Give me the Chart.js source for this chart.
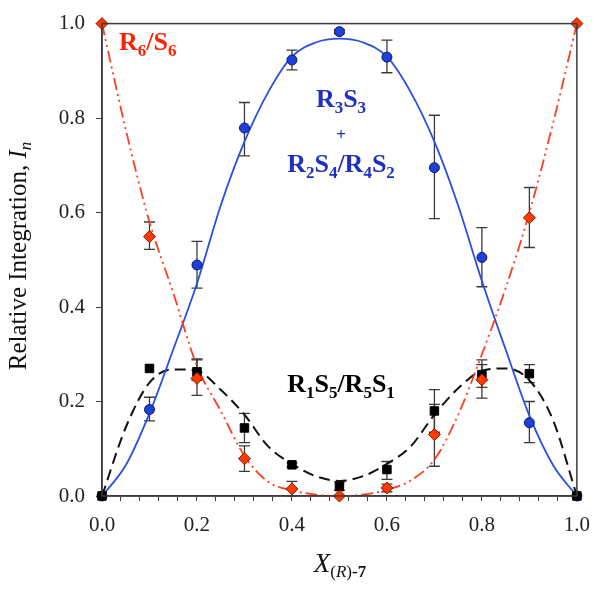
<!DOCTYPE html>
<html>
<head>
<meta charset="utf-8">
<script src="https://cdn.jsdelivr.net/npm/chart.js@4.4.0/dist/chart.umd.min.js"></script>
<style>
  html, body { margin: 0; padding: 0; background: #fff; }
  #wrap { width: 602px; height: 594px; }
</style>
</head>
<body>
<div id="wrap"><canvas id="myChart" width="602" height="594"></canvas></div>
<script>
// measured points, x = mole fraction of (R)-7
const xValues = [0, 0.1, 0.2, 0.3, 0.4, 0.5, 0.6, 0.7, 0.8, 0.9, 1.0];

// R6/S6
const r6Values = [1.0, 0.549, 0.249, 0.079, 0.015, 0.0, 0.017, 0.13, 0.246, 0.589, 1.0];
const r6High   = [1.0, 0.580, 0.290, 0.106, 0.031, 0.0, 0.025, 0.194, 0.278, 0.653, 1.0];
const r6Low    = [1.0, 0.522, 0.213, 0.052, 0.0,   0.0, 0.009, 0.063, 0.207, 0.526, 1.0];

// R3S3 + R2S4/R4S2
const r3Values = [0, 0.183, 0.489, 0.779, 0.923, 0.983, 0.929, 0.695, 0.505, 0.155, 0];
const r3High   = [0, 0.209, 0.539, 0.833, 0.944, 0.987, 0.965, 0.806, 0.568, 0.200, 0];
const r3Low    = [0, 0.159, 0.440, 0.720, 0.902, 0.979, 0.896, 0.587, 0.443, 0.113, 0];

// R1S5/R5S1
const r1Values = [0, 0.27, 0.263, 0.144, 0.066, 0.02, 0.056, 0.18, 0.257, 0.259, 0];
const r1High   = [0, 0.27, 0.288, 0.175, 0.070, 0.03, 0.073, 0.225, 0.288, 0.278, 0];
const r1Low    = [0, 0.27, 0.245, 0.113, 0.062, 0.012, 0.035, 0.135, 0.230, 0.240, 0];

// fitted curves, every 0.05
const curveX = [0, 0.05, 0.1, 0.15, 0.2, 0.25, 0.3, 0.35, 0.4, 0.45, 0.5,
                0.55, 0.6, 0.65, 0.7, 0.75, 0.8, 0.85, 0.9, 0.95, 1.0];
const r6Curve = [1.0, 0.776, 0.58, 0.43, 0.275, 0.18, 0.085, 0.03, 0.012, 0.003, 0,
                 0.003, 0.013, 0.033, 0.077, 0.172, 0.30, 0.44, 0.60, 0.79, 1.0];
const r3Curve = [0, 0.065, 0.175, 0.31, 0.45, 0.615, 0.75, 0.855, 0.93, 0.96, 0.968,
                 0.96, 0.93, 0.855, 0.75, 0.615, 0.455, 0.31, 0.17, 0.065, 0];
const r1Curve = [0, 0.145, 0.24, 0.268, 0.265, 0.225, 0.172, 0.105, 0.068, 0.042, 0.032,
                 0.042, 0.068, 0.105, 0.172, 0.228, 0.265, 0.27, 0.245, 0.16, 0];

const serif = "'Liberation Serif', 'Times New Roman', serif";

function toPoints(xs, ys) {
    return xs.map((x, i) => ({ x: x, y: ys[i] }));
}

// error bars drawn under the markers
const errorBars = {
    id: 'errorBars',
    beforeDatasetsDraw(chart) {
        const ctx = chart.ctx;
        const xs = chart.scales.x, ys = chart.scales.y;
        const sets = [[r6High, r6Low], [r3High, r3Low], [r1High, r1Low]];
        ctx.save();
        ctx.strokeStyle = '#3a3a3a';
        ctx.lineWidth = 1.3;
        sets.forEach(([hi, lo]) => {
            for (let i = 0; i < xValues.length; i++) {
                if (hi[i] - lo[i] < 0.004) continue;
                let px = xs.getPixelForValue(xValues[i]);
                let top = ys.getPixelForValue(hi[i]);
                let bot = ys.getPixelForValue(lo[i]);
                ctx.beginPath();
                ctx.moveTo(px, top); ctx.lineTo(px, bot);
                ctx.moveTo(px - 5.5, top); ctx.lineTo(px + 5.5, top);
                ctx.moveTo(px - 5.5, bot); ctx.lineTo(px + 5.5, bot);
                ctx.stroke();
            }
        });
        ctx.restore();
    }
};

// draws a run of text pieces (for subscripts / mixed styles)
function drawRich(ctx, parts, x, y, align) {
    let total = 0;
    parts.forEach(p => { ctx.font = p.font; p.w = ctx.measureText(p.text).width; total += p.w; });
    let cx = align === 'center' ? x - total / 2 : x;
    parts.forEach(p => {
        ctx.font = p.font;
        ctx.fillText(p.text, cx, y + (p.dy || 0));
        cx += p.w;
    });
}

const labels = {
    id: 'labels',
    afterDraw(chart) {
        const ctx = chart.ctx;
        const a = chart.chartArea;
        ctx.save();
        // top and right frame
        ctx.strokeStyle = '#3c3c3c';
        ctx.lineWidth = 1.5;
        ctx.strokeRect(a.left, a.top, a.right - a.left, a.bottom - a.top);

        ctx.textBaseline = 'alphabetic';
        ctx.textAlign = 'left';
        const big = 'bold 26px ' + serif;
        const sub = 'bold 17px ' + serif;

        ctx.fillStyle = '#ff2200';
        drawRich(ctx, [
            { text: 'R', font: big }, { text: '6', font: sub, dy: 6 },
            { text: '/S', font: big }, { text: '6', font: sub, dy: 6 }
        ], 119, 50, 'left');

        ctx.fillStyle = '#1f2fbf';
        drawRich(ctx, [
            { text: 'R', font: big }, { text: '3', font: sub, dy: 6 },
            { text: 'S', font: big }, { text: '3', font: sub, dy: 6 }
        ], 341, 107, 'center');
        drawRich(ctx, [{ text: '+', font: 'bold 17px ' + serif }], 341, 140, 'center');
        drawRich(ctx, [
            { text: 'R', font: big }, { text: '2', font: sub, dy: 6 },
            { text: 'S', font: big }, { text: '4', font: sub, dy: 6 },
            { text: '/R', font: big }, { text: '4', font: sub, dy: 6 },
            { text: 'S', font: big }, { text: '2', font: sub, dy: 6 }
        ], 341, 172, 'center');

        ctx.fillStyle = '#000';
        drawRich(ctx, [
            { text: 'R', font: big }, { text: '1', font: sub, dy: 6 },
            { text: 'S', font: big }, { text: '5', font: sub, dy: 6 },
            { text: '/R', font: big }, { text: '5', font: sub, dy: 6 },
            { text: 'S', font: big }, { text: '1', font: sub, dy: 6 }
        ], 341, 392, 'center');

        // axis titles
        ctx.fillStyle = '#111';
        drawRich(ctx, [
            { text: 'X', font: 'italic 27px ' + serif },
            { text: '(', font: '17px ' + serif, dy: 5 },
            { text: 'R', font: 'italic 17px ' + serif, dy: 5 },
            { text: ')', font: '17px ' + serif, dy: 5 },
            { text: '-7', font: 'bold 17px ' + serif, dy: 5 }
        ], 340, 572, 'center');

        ctx.translate(26, 256);
        ctx.rotate(-Math.PI / 2);
        drawRich(ctx, [
            { text: 'Relative Integration, ', font: '25px ' + serif },
            { text: 'I', font: 'italic 25px ' + serif },
            { text: 'n', font: 'italic 17px ' + serif, dy: 5 }
        ], 0, 0, 'center');
        ctx.restore();
    }
};

const ctx = document.getElementById('myChart').getContext('2d');
new Chart(ctx, {
    type: 'scatter',
    data: {
        datasets: [
            {
                label: 'R6/S6',
                data: toPoints(xValues, r6Values),
                pointStyle: 'rectRot',
                pointRadius: 6,
                backgroundColor: '#ff3a00',
                borderColor: '#8a1500',
                borderWidth: 1,
                order: 0
            },
            {
                label: 'R1S5/R5S1',
                data: toPoints(xValues, r1Values),
                pointStyle: 'rect',
                pointRadius: 6,
                backgroundColor: '#000',
                borderColor: '#000',
                borderWidth: 1,
                order: 0
            },
            {
                label: 'R3S3 + R2S4/R4S2',
                data: toPoints(xValues, r3Values),
                pointStyle: 'circle',
                pointRadius: 5,
                backgroundColor: '#1e40d8',
                borderColor: '#0b1a70',
                borderWidth: 1,
                order: 0
            },
            {
                label: 'R6/S6 fit',
                type: 'line',
                data: toPoints(curveX, r6Curve),
                borderColor: '#ff3d1f',
                borderWidth: 1.8,
                borderDash: [12, 4, 2, 4, 2, 4],
                pointRadius: 0,
                cubicInterpolationMode: 'monotone',
                fill: false,
                order: 1
            },
            {
                label: 'R3S3 fit',
                type: 'line',
                data: toPoints(curveX, r3Curve),
                borderColor: '#2a4fe0',
                borderWidth: 1.8,
                pointRadius: 0,
                cubicInterpolationMode: 'monotone',
                fill: false,
                order: 1
            },
            {
                label: 'R1S5 fit',
                type: 'line',
                data: toPoints(curveX, r1Curve),
                borderColor: '#111',
                borderWidth: 2,
                borderDash: [11, 6],
                pointRadius: 0,
                cubicInterpolationMode: 'monotone',
                fill: false,
                order: 1
            }
        ]
    },
    options: {
        responsive: false,
        animation: false,
        devicePixelRatio: 1,
        clip: false,
        layout: { padding: { top: 17, right: 23, left: 0, bottom: 0 } },
        plugins: {
            legend: { display: false },
            tooltip: { enabled: false }
        },
        scales: {
            x: {
                type: 'linear',
                min: 0,
                max: 1,
                afterFit: s => { s.height = 98; },
                border: { color: '#3c3c3c', width: 1.5 },
                grid: { drawOnChartArea: false, drawTicks: true, tickLength: 5, color: '#3c3c3c' },
                ticks: {
                    stepSize: 0.04,
                    maxTicksLimit: 30,
                    autoSkip: false,
                    maxRotation: 0,
                    padding: 12,
                    color: '#222',
                    font: { family: serif, size: 21 },
                    callback: v => {
                        let k = v * 5;
                        return Math.abs(k - Math.round(k)) < 1e-6 ? v.toFixed(1) : '';
                    }
                }
            },
            y: {
                type: 'linear',
                min: 0,
                max: 1,
                afterFit: s => { s.width = 102; },
                border: { color: '#3c3c3c', width: 1.5 },
                grid: { drawOnChartArea: false, drawTicks: true, tickLength: 6, color: '#3c3c3c' },
                ticks: {
                    stepSize: 0.2,
                    padding: 11,
                    color: '#222',
                    font: { family: serif, size: 21 },
                    callback: v => v.toFixed(1)
                }
            }
        }
    },
    plugins: [errorBars, labels]
});
</script>
</body>
</html>
